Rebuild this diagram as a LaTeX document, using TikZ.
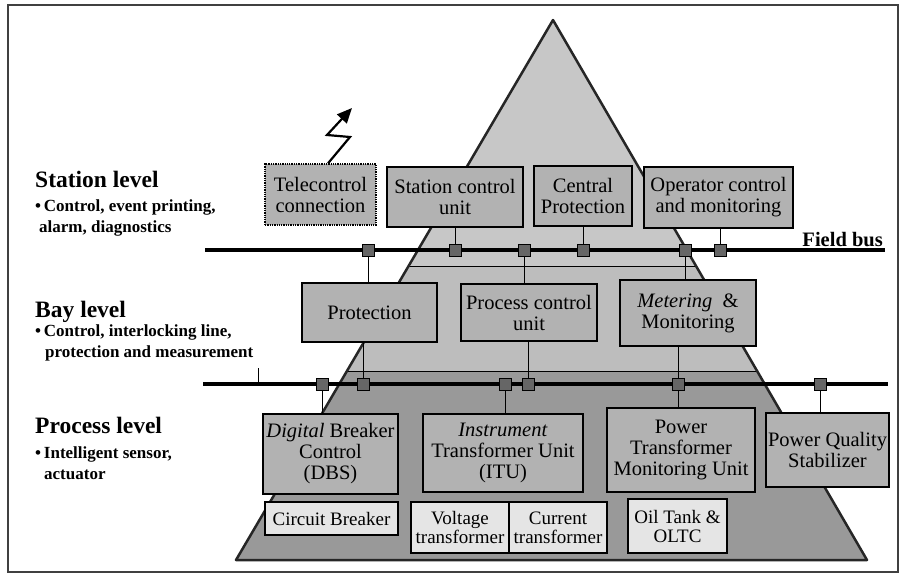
\documentclass[tikz,border=0pt]{standalone}
\usepackage{fontspec}
\setmainfont{Liberation Serif}
\usepackage{tikz}
\usetikzlibrary{arrows.meta}

\begin{document}
\begin{tikzpicture}[x=1pt,y=-1pt,
        unit/.style={draw=black,line width=1.3pt,fill=black!30,align=center,inner sep=0pt,font=\fontsize{20.5}{21}\selectfont},
        part/.style={draw=black,line width=1.3pt,fill=black!10,align=center,inner sep=0pt,font=\fontsize{19}{19}\selectfont},
        tap/.style={draw=black,line width=1pt,fill=black!60,minimum size=12pt,inner sep=0pt},
        bus/.style={line width=4.5pt},
        link/.style={line width=0.9pt},
        lvl/.style={anchor=base west,inner sep=0pt,font=\fontsize{23.5}{24}\selectfont\bfseries},
        note/.style={anchor=base west,align=left,inner sep=0pt,font=\fontsize{17}{20.5}\selectfont\bfseries}]
        \useasboundingbox (0,0) rectangle (910,576);
        \draw[line width=1.2pt,black!75] (8,5) rectangle (898,572);

        \coordinate (apex) at (553,20);
        \coordinate (bl) at (236,560);
        \coordinate (br) at (867,560);
        \begin{scope}
            \clip (apex) -- (bl) -- (br) -- cycle;
            \fill[black!22] (200,0) rectangle (900,266);
            \fill[black!26] (200,266) rectangle (900,371);
            \fill[black!40] (200,371) rectangle (900,570);
            \draw[line width=1pt] (200,266) -- (900,266) (200,371) -- (900,371);
        \end{scope}
        \draw[line width=2.5pt,black!85,line join=round] (apex) -- (bl) -- (br) -- cycle;

        \node[lvl] (stn) at (35,187) {Station level};
        \node[note] (stnN) at (35,232) {\textbullet\,Control, event printing,\\\hspace*{4pt}alarm, diagnostics};
        \node[lvl] (bay) at (35,317) {Bay level};
        \node[note] (bayN) at (35,357) {\textbullet\,Control, interlocking line,\\\hspace*{10pt}protection and measurement};
        \node[lvl] (prc) at (35,433) {Process level};
        \node[note] (prcN) at (35,479) {\textbullet\,Intelligent sensor,\\\hspace*{9pt}actuator};

        \node[unit,densely dotted,minimum width=111pt,minimum height=61pt] (tele) at (320.5,194.5) {Telecontrol\\connection};
        \node[unit,minimum width=136pt,minimum height=60pt] (scu) at (455,197) {Station control\\unit};
        \node[unit,minimum width=98pt,minimum height=60pt] (cprot) at (583,196) {Central\\Protection};
        \node[unit,minimum width=149pt,minimum height=61pt] (opc) at (718.5,197.5) {Operator control\\and monitoring};

        \node[unit,minimum width=135pt,minimum height=59pt] (prot) at (369.5,312.5) {Protection};
        \node[unit,minimum width=136pt,minimum height=57pt] (pcu) at (529,312.5) {Process control\\unit};
        \node[unit,minimum width=136pt,minimum height=66pt] (meter) at (688,313) {\textit{Metering}~~\&\\Monitoring};

        \node[unit,minimum width=135pt,minimum height=80pt] (dbc) at (330.5,454) {\textit{Digital} Breaker\\Control\\(DBS)};
        \node[unit,minimum width=160pt,minimum height=78pt] (itu) at (503,453) {\textit{Instrument}\\Transformer Unit\\(ITU)};
        \node[unit,minimum width=148pt,minimum height=84pt] (ptmu) at (681,450) {Power\\Transformer\\Monitoring Unit};
        \node[unit,minimum width=123pt,minimum height=74pt] (pqs) at (827.5,450) {Power Quality\\Stabilizer};

        \node[part,minimum width=133pt,minimum height=33pt] (cb) at (331.5,518.5) {Circuit Breaker};
        \node[part,minimum width=98pt,minimum height=51pt] (vt) at (460,527.5) {Voltage\\transformer};
        \node[part,minimum width=98pt,minimum height=51pt] (ct) at (558,527.5) {Current\\transformer};
        \node[part,minimum width=99pt,minimum height=54pt] (oil) at (677.5,526) {Oil Tank \&\\OLTC};

        \coordinate (fbw) at (205,250);
        \coordinate (fbe) at (885,250);
        \coordinate (pbw) at (203,384);
        \coordinate (pbe) at (888,384);
        \coordinate (tk) at (258,368);
        \draw[bus] (fbw) -- (fbe);
        \draw[bus] (pbw) -- (pbe);
        \draw[link] (tk) -- (tk |- pbw);
        \node[anchor=base east,inner sep=0pt,font=\fontsize{20.5}{21}\selectfont\bfseries] (fblabel) at (883,246) {Field bus};

        \foreach \x [count=\i] in {368,455,524,583,685,720}
            \node[tap] (f\i) at (\x,250) {};
        \foreach \x [count=\i] in {322,363,505,528,678,820}
            \node[tap] (p\i) at (\x,384) {};

        \draw[link] (f1) -- (f1 |- prot.north);
        \draw[link] (f2) -- (f2 |- scu.south);
        \draw[link] (f3) -- (f3 |- pcu.north);
        \draw[link] (f4) -- (f4 |- cprot.south);
        \draw[link] (f5) -- (f5 |- meter.north);
        \draw[link] (f6) -- (f6 |- opc.south);
        \draw[link] (p1) -- (p1 |- dbc.north);
        \draw[link] (p2) -- (p2 |- prot.south);
        \draw[link] (p3) -- (p3 |- itu.north);
        \draw[link] (p4) -- (p4 |- pcu.south);
        \draw[link] (p5) -- (p5 |- meter.south);
        \draw[link] (p5) -- (p5 |- ptmu.north);
        \draw[link] (p6) -- (p6 |- pqs.north);

        \coordinate (z1) at (350,137);
        \coordinate (z2) at (327,135);
        \coordinate (z3) at (352,108);
        \draw[line width=2.2pt,line join=miter,-{Triangle[length=15pt,width=13pt]}] ([xshift=7.5pt]tele.north) -- (z1) -- (z2) -- (z3);
    \end{tikzpicture}
\end{document}
